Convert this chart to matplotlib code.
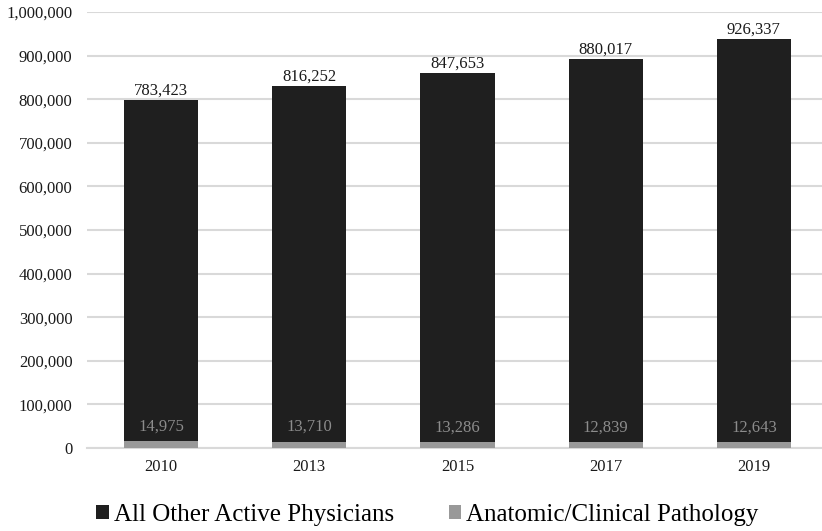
import matplotlib
matplotlib.use("Agg")
import matplotlib.pyplot as plt
from matplotlib.ticker import FuncFormatter
import numpy as np

years = ["2010", "2013", "2015", "2017", "2019"]
other = [783423, 816252, 847653, 880017, 926337]
patho = [14975, 13710, 13286, 12839, 12643]

plt.rcParams['font.family'] = ['Liberation Serif', 'DejaVu Serif']

fig = plt.figure(figsize=(8.22, 5.31), dpi=100)
ax = fig.add_axes([87/822, 1-448/531, (828-87)/822, (448-12)/531])

x = np.arange(len(years))
dark = '#1f1f1f'
grey = '#999999'
b1 = ax.bar(x, patho, width=0.5, color=grey, zorder=3, label='Anatomic/Clinical Pathology')
b2 = ax.bar(x, other, width=0.5, bottom=patho, color=dark, zorder=3, label='All Other Active Physicians')

for i in range(len(years)):
    ax.annotate(f"{other[i]:,}", (x[i], other[i] + patho[i]), xytext=(0, 1), textcoords='offset points',
                ha='center', va='bottom', fontsize=12, color='#1a1a1a')
    ax.annotate(f"{patho[i]:,}", (x[i], patho[i]), xytext=(0, 5), textcoords='offset points',
                ha='center', va='bottom', fontsize=12, color='#8c8c8c', zorder=4)

ax.set_xlim(-0.5, 4.5)
ax.set_ylim(0, 1000000)
ax.set_yticks(np.arange(0, 1000001, 100000))
ax.yaxis.set_major_formatter(FuncFormatter(lambda v, p: f"{int(v):,}"))
ax.set_xticks(x)
ax.set_xticklabels(years)
ax.tick_params(axis='both', length=0, labelsize=12, colors='#1a1a1a')
ax.tick_params(axis='y', pad=10.5)
ax.tick_params(axis='x', pad=8)
ax.grid(axis='y', color='#d9d9d9', linewidth=1.5, zorder=0)
for s in ['top', 'right', 'left']:
    ax.spines[s].set_visible(False)
ax.spines['bottom'].set_color('#d9d9d9')
ax.spines['bottom'].set_linewidth(1.5)

leg = fig.legend(handles=[b2, b1], loc='center', bbox_to_anchor=(0.52, 1-515/531), ncol=2,
                 frameon=False, fontsize=18, handlelength=0.5, handleheight=0.5,
                 handletextpad=0.2, columnspacing=2.2)

fig.savefig('out.png', dpi=100)
